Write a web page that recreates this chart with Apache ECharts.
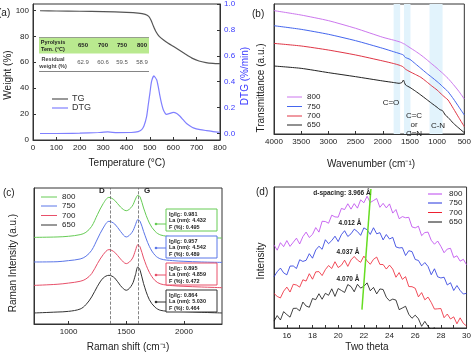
<!DOCTYPE html>
<html>
<head>
<meta charset="utf-8">
<title>TG / FTIR / Raman / XRD</title>
<style>
    * { margin: 0; padding: 0; }
    #main { width: 474px; height: 352px; background: #fff; }
</style>
</head>
<body>
<div id="main"></div>
<script src="https://cdn.jsdelivr.net/npm/echarts@6/dist/echarts.min.js"></script>
<script>
// ---------- (a) TG / DTG ----------
var tgTemp = [30, 100, 200, 300, 400, 450, 480, 495, 505, 515, 525, 540, 560, 580, 600, 620, 650, 680, 710, 740, 770, 800];
var tgWeight = [99.8, 99.6, 99.4, 99.1, 98.6, 98.0, 97.0, 95.5, 92.5, 88, 84, 80, 77, 74.5, 72.3, 70, 66.5, 63.2, 61, 59.8, 59.2, 58.9];
var dtgTemp = [30, 100, 200, 280, 320, 360, 420, 450, 465, 475, 486, 493, 500, 507, 517, 529, 536, 543, 550, 557, 565, 571, 585, 600, 615, 629, 643, 657, 672, 686, 715, 743, 770, 800];
var dtgRate = [0.0, 0.0, 0.003, 0.008, 0.012, 0.007, 0.008, 0.015, 0.03, 0.06, 0.13, 0.22, 0.31, 0.40, 0.445, 0.415, 0.36, 0.29, 0.23, 0.185, 0.158, 0.148, 0.155, 0.164, 0.155, 0.133, 0.105, 0.077, 0.058, 0.044, 0.03, 0.022, 0.015, 0.01];
var pyroTemps = ['650', '700', '750', '800'];
var residual = ['62.9', '60.6', '59.5', '58.9'];

// ---------- (b) FTIR ----------
var waveNum = [4000, 3500, 3000, 2500, 2000, 1800, 1700, 1650, 1620, 1600, 1580, 1500, 1400, 1300, 1200, 1100, 1000, 950, 900, 850, 800, 700, 600, 500];
var ir800 = [94.9, 91.5, 87.2, 81.3, 74.4, 72.2, 71, 70.2, 69.5, 69.2, 68.6, 66.4, 63.7, 60.8, 57.5, 54, 50.5, 48.6, 46.8, 44.8, 42.8, 38, 32.8, 26.9];
var ir750 = [83.3, 80.5, 76.7, 71.8, 65.9, 63.3, 62, 61.3, 60.8, 59.5, 58.8, 57.4, 54, 50.5, 47, 43.7, 40.3, 38.5, 36.5, 34.6, 32.6, 27, 20.8, 14.6];
var ir700 = [69.7, 67.7, 64.6, 60.8, 56.2, 54.2, 53, 52.2, 51.5, 50.5, 49.8, 47.9, 45.8, 43.6, 40.4, 37, 33.8, 31.8, 29.8, 28, 26.2, 19.5, 12.5, 5.6];
var ir650 = [52.3, 50.5, 47.2, 44.1, 40.8, 39.6, 39, 39.5, 41.5, 39.5, 37.7, 35.8, 33, 30, 26.8, 23.6, 20.5, 18.8, 17.9, 14.6, 12.8, 8.2, 4.5, 1];
var irBands = [[1800, 1680], [1610, 1490], [1140, 900]];

// ---------- (c) Raman ----------
var ramanShift = [700, 900, 1000, 1100, 1150, 1200, 1250, 1300, 1350, 1400, 1450, 1500, 1550, 1580, 1600, 1620, 1650, 1700, 1750, 1800, 1900, 2000, 2150, 2330];
var ra800 = [63.7, 64, 64.5, 65.7, 67.4, 71.8, 80.4, 88.5, 93.1, 90.9, 86, 83.3, 86.5, 91.9, 94.6, 93.4, 85.3, 74.3, 68.1, 65.4, 64.2, 63.7, 63.5, 63.2];
var ra750 = [45.6, 45.8, 46.6, 47.8, 49.8, 54.2, 62.5, 70.6, 75.5, 73.5, 68.1, 64, 67.4, 73, 76.7, 75.5, 68.1, 57.1, 50.5, 47.8, 46.6, 46.1, 45.6, 45.3];
var ra700 = [28.4, 29.2, 30.1, 31.4, 33.1, 37, 44.4, 51, 54.7, 52.7, 47.8, 44.4, 47.8, 54.2, 58.3, 56.6, 48.5, 38, 31.9, 29.4, 28.2, 27.7, 27.2, 26.7];
var ra650 = [8.1, 8.8, 9.3, 11, 14.2, 19.9, 27.7, 33.8, 35.8, 33.8, 28.2, 24.8, 28.9, 36.3, 41.9, 39.5, 29.7, 17.9, 12.3, 10, 9.3, 9.1, 8.6, 8.1];
var ramanRatio = ['0.981', '0.957', '0.895', '0.864'];
var ramanLa = ['4.432', '4.542', '4.859', '5.030'];
var ramanF = ['0.495', '0.489', '0.472', '0.464'];

// ---------- (d) XRD (sampled every 0.25 deg from 15) ----------
var xrd800 = [58.9, 55.2, 60.5, 57.7, 62, 57.9, 60.8, 63.7, 59.6, 64.8, 68, 64.2, 66.4, 71.2, 68, 75.7, 75.5, 74.3, 80, 78.8, 78.6, 84.8, 84, 88.1, 84.3, 88.2, 85, 90.9, 88.8, 93.4, 89, 90.4, 91.8, 85.6, 88.4, 85.2, 88, 81.5, 84, 77.5, 79, 78.2, 78.5, 71.7, 71, 72.2, 65.5, 67.7, 68, 62.2, 59.4, 61.7, 57.9, 53.4, 56, 56.5, 50, 51.2, 47.4, 48.7, 44.9];
var xrd750 = [36.3, 39.9, 42.5, 39.1, 37.7, 43.9, 44, 42.2, 48.4, 47.2, 48, 52.7, 49.5, 55.3, 58, 55.8, 62.6, 59.8, 62, 65.1, 61.3, 66.2, 69, 64.9, 66.8, 70.1, 68.4, 65.7, 71, 69.7, 66.4, 71.1, 66.8, 67.6, 62.5, 66.3, 63.1, 64.3, 57.5, 56.8, 57, 51.4, 54.8, 54.2, 48.6, 47.9, 44.1, 46.4, 43.6, 37.8, 42, 36.3, 35.5, 36, 30.5, 32.1, 26.6, 30.1, 26.6, 24.1, 24.6];
var xrd700 = [24.5, 22.4, 21.3, 26.1, 29, 25.5, 31, 30.5, 29, 34.2, 33.3, 38.5, 34.6, 39.8, 40, 37.2, 41.4, 44.3, 42.2, 47, 42.9, 44.5, 48.1, 43.7, 48.3, 50.7, 48.2, 46.6, 51, 47.6, 45.2, 48.7, 50.3, 45.1, 45, 41.8, 44.6, 41.8, 36, 39.3, 34.5, 36.4, 29.4, 29.3, 28.2, 22.1, 25.1, 20, 21.9, 18.1, 13.4, 13.6, 13.8, 7.3, 9.9, 6.4, 7.9, 3, 7.2, 3.3, 1.4];
var xrd650 = [4.9, 8.8, 5.7, 11.6, 9.5, 7.7, 13.9, 14, 12.2, 18.4, 15.6, 14.7, 20.9, 20.1, 24.3, 20.4, 24.6, 23.2, 27.8, 22.4, 28, 26.6, 25.2, 30.8, 29.4, 25.7, 31, 28.3, 29.6, 32, 26.4, 28.8, 24.2, 27.7, 27.3, 21.8, 19.3, 20.5, 19.8, 13, 14.2, 15.4, 9.7, 6.9, 9.1, 6.6, 1.2, 4.7, 1.2, -1.3, 0.2, -5.3];
var dLine = [[21.85, 13], [22.55, 98.6]];
var dSpacing = ['d-spacing: 3.966 Å', '4.012 Å', '4.037 Å', '4.070 Å'];

var temps = ['800', '750', '700', '650'];
var colB = ['#cc77ee', '#4466ee', '#e03545', '#222222'];
var colC = ['#66cc55', '#5b76e8', '#e8506a', '#333333'];
var colD = ['#bb44ee', '#2233dd', '#ee2030', '#111111'];

var FONT = 'Liberation Sans, Arial, sans-serif';

function pairs(xs, ys) {
    var out = [];
    for (var i = 0; i < ys.length; i++) out.push([xs[i], ys[i]]);
    return out;
}
var thetaX = [];
for (var i = 0; i < 61; i++) thetaX.push(15 + i * 0.25);

function txt(x, y, s, o) {
    o = o || {};
    return {
        type: 'text', x: x, y: y, rotation: o.rot || 0, z: 50,
        style: {
            text: s, fill: o.color || '#222', align: o.align || 'left', verticalAlign: 'middle',
            font: (o.weight || 'normal') + ' ' + (o.size || 9) + 'px ' + FONT, rich: o.rich
        }
    };
}
function seg(x1, y1, x2, y2, c, w) {
    return { type: 'line', z: 50, shape: { x1: x1, y1: y1, x2: x2, y2: y2 }, style: { stroke: c, lineWidth: w || 1 } };
}

var graphic = [];
// panel letters + axis titles
graphic.push(txt(-2, 13, '(a)', { size: 10 }));
graphic.push(txt(252, 14, '(b)', { size: 10 }));
graphic.push(txt(3, 193, '(c)', { size: 10 }));
graphic.push(txt(256, 192, '(d)', { size: 10 }));
graphic.push(txt(8, 75, 'Weight (%)', { rot: Math.PI / 2, align: 'center', size: 10 }));
graphic.push(txt(245, 76, 'DTG (%/min)', { rot: Math.PI / 2, align: 'center', size: 10, color: '#3a3aff' }));
graphic.push(txt(127, 163, 'Temperature (°C)', { align: 'center', size: 10 }));
graphic.push(txt(261, 88, 'Transmittance (a.u.)', { rot: Math.PI / 2, align: 'center', size: 10 }));
graphic.push(txt(371, 164, 'Wavenumber (cm⁻¹)', { align: 'center', size: 10 }));
graphic.push(txt(13, 263, 'Raman Intensity (a.u.)', { rot: Math.PI / 2, align: 'center', size: 10 }));
graphic.push(txt(128, 347, 'Raman shift (cm⁻¹)', { align: 'center', size: 10 }));
graphic.push(txt(261, 261, 'Intensity', { rot: Math.PI / 2, align: 'center', size: 10 }));
graphic.push(txt(367, 347, 'Two theta', { align: 'center', size: 10 }));

// (a) table
graphic.push({ type: 'rect', z: 40, shape: { x: 39, y: 37.5, width: 110, height: 16 }, style: { fill: '#b9e98f' } });
graphic.push(seg(39, 37.5, 149, 37.5, '#666', 0.6));
graphic.push(seg(39, 71.5, 149, 71.5, '#666', 0.8));
graphic.push(txt(53, 42, 'Pyrolysis', { size: 5.5, weight: 'bold', align: 'center' }));
graphic.push(txt(53, 49, 'Tem. (°C)', { size: 5.5, weight: 'bold', align: 'center' }));
graphic.push(txt(53, 59, 'Residual', { size: 5.5, weight: 'bold', align: 'center', color: '#444' }));
graphic.push(txt(53, 66, 'weight (%)', { size: 5.5, weight: 'bold', align: 'center', color: '#444' }));
var colX = [83, 103, 122, 142];
pyroTemps.forEach(function (t, k) {
    graphic.push(txt(colX[k], 45.5, t, { size: 6, weight: 'bold', align: 'center' }));
    graphic.push(txt(colX[k], 62.5, residual[k], { size: 6, align: 'center', color: '#555' }));
});
// (a) legend
graphic.push(seg(52, 99, 68, 99, '#555', 1.2));
graphic.push(txt(72, 99, 'TG', { size: 9, color: '#333' }));
graphic.push(seg(52, 108, 68, 108, '#8080ff', 1.2));
graphic.push(txt(72, 108, 'DTG', { size: 9, color: '#333' }));

// (b) legend + band labels
var legB = [97, 106.5, 116, 125];
var legC = [197, 206, 215.5, 225];
var legD = [194, 203, 212.5, 222];
temps.forEach(function (t, k) {
    graphic.push(seg(287, legB[k], 302, legB[k], colB[k], 1));
    graphic.push(txt(307, legB[k], t, { size: 8 }));
    graphic.push(seg(41, legC[k], 57, legC[k], colC[k], 1));
    graphic.push(txt(62, legC[k], t, { size: 8 }));
    graphic.push(seg(428, legD[k], 442, legD[k], colD[k], 1));
    graphic.push(txt(449, legD[k], t, { size: 8 }));
});
graphic.push(txt(391, 103, 'C=O', { size: 8, align: 'center' }));
graphic.push(txt(414, 116, 'C=C', { size: 8, align: 'center' }));
graphic.push(txt(414, 125, 'or', { size: 8, align: 'center' }));
graphic.push(txt(414, 134, 'C=N', { size: 8, align: 'center' }));
graphic.push(txt(438, 126, 'C-N', { size: 8, align: 'center' }));

// (c) D/G labels + annotation boxes
graphic.push(txt(102, 191, 'D', { size: 8, weight: 'bold', align: 'center' }));
graphic.push(txt(147, 191, 'G', { size: 8, weight: 'bold', align: 'center' }));
var boxTop = [209, 236, 263, 290];
var arrowY = [224, 248, 275, 302];
var subRich = { s: { fontSize: 4.5, fontWeight: 'bold', fill: '#222', verticalAlign: 'bottom', padding: [3, 0, 0, 0] } };
ramanRatio.forEach(function (r, k) {
    graphic.push({ type: 'rect', z: 45, shape: { x: 166, y: boxTop[k], width: 51, height: 22 }, style: { fill: '#fff', stroke: colC[k], lineWidth: 1 } });
    graphic.push(txt(169, boxTop[k] + 5, 'I{s|D}/I{s|G}: ' + r, { size: 5.5, weight: 'bold', rich: subRich }));
    graphic.push(txt(169, boxTop[k] + 11.5, 'La (nm): ' + ramanLa[k], { size: 5.5, weight: 'bold' }));
    graphic.push(txt(169, boxTop[k] + 18, 'F (%): ' + ramanF[k], { size: 5.5, weight: 'bold' }));
    graphic.push(seg(156, arrowY[k], 166, arrowY[k], colC[k], 1));
    graphic.push({ type: 'circle', z: 50, shape: { cx: 156, cy: arrowY[k], r: 1.3 }, style: { fill: colC[k] } });
});

// (d) d-spacing labels
graphic.push(txt(342, 193, dSpacing[0], { size: 6.5, weight: 'bold', align: 'center' }));
graphic.push(txt(350, 223, dSpacing[1], { size: 6.5, weight: 'bold', align: 'center' }));
graphic.push(txt(348, 252, dSpacing[2], { size: 6.5, weight: 'bold', align: 'center' }));
graphic.push(txt(348, 279, dSpacing[3], { size: 6.5, weight: 'bold', align: 'center' }));

var myChart = echarts.init(document.getElementById('main'), null, { renderer: 'canvas' });

var plain = function (v) { return String(v); };

function xAx(gi, o) {
    var a = {
        gridIndex: gi, type: 'value', splitLine: { show: false },
        axisLine: { show: true, onZero: false, lineStyle: { color: '#333' } },
        axisTick: { show: true, inside: true, length: 3, lineStyle: { color: '#333' } },
        axisLabel: { fontSize: 8, color: '#222', margin: 4, fontFamily: FONT, formatter: plain }
    };
    return echarts.util.merge(a, o, true);
}
function yAx(gi, o) {
    var a = xAx(gi, {});
    return echarts.util.merge(a, o, true);
}
var noLab = { axisLabel: { show: false }, axisTick: { show: false } };

var seriesLine = function (name, xi, yi, data, color, extra) {
    var s = {
        name: name, type: 'line', xAxisIndex: xi, yAxisIndex: yi, data: data,
        symbol: 'none', lineStyle: { color: color, width: 1 }, itemStyle: { color: color }, clip: true
    };
    return echarts.util.merge(s, extra || {}, true);
};

var irSeries = [ir800, ir750, ir700, ir650];
var raSeries = [ra800, ra750, ra700, ra650];
var xrdSeries = [xrd800, xrd750, xrd700, xrd650];

var series = [
    seriesLine('TG', 0, 0, pairs(tgTemp, tgWeight), '#555555', { smooth: 0.2, lineStyle: { width: 1.2 } }),
    seriesLine('DTG', 0, 1, pairs(dtgTemp, dtgRate), '#8080ff', { smooth: 0.2, lineStyle: { width: 1.2 } })
];
temps.forEach(function (t, k) {
    var s = seriesLine('IR ' + t, 1, 2, pairs(waveNum, irSeries[k]), colB[k], { smooth: 0.2 });
    if (k === 0) {
        s.markArea = {
            silent: true, itemStyle: { color: '#e2f3fc', opacity: 1 },
            data: irBands.map(function (b) { return [{ xAxis: b[0] }, { xAxis: b[1] }]; })
        };
    }
    series.push(s);
});
temps.forEach(function (t, k) {
    var s = seriesLine('Raman ' + t, 2, 3, pairs(ramanShift, raSeries[k]), colC[k], { smooth: 0.35 });
    if (k === 3) {
        s.markLine = {
            silent: true, symbol: 'none', label: { show: false },
            lineStyle: { color: '#666', type: 'dashed', width: 0.8 },
            data: [{ xAxis: 1360 }, { xAxis: 1600 }]
        };
    }
    series.push(s);
});
temps.forEach(function (t, k) {
    series.push(seriesLine('XRD ' + t, 3, 4, pairs(thetaX, xrdSeries[k]), colD[k], { lineStyle: { width: 0.8 } }));
});
series.push(seriesLine('d-shift', 3, 4, dLine, '#66dd22', { lineStyle: { width: 1.5 } }));

option = {
    animation: false,
    backgroundColor: '#fff',
    textStyle: { fontFamily: FONT },
    grid: [
        { left: 33, top: 4, width: 187, height: 136, show: true, borderColor: '#333', borderWidth: 1 },
        { left: 274, top: 4, width: 193, height: 130, show: true, borderColor: '#333', borderWidth: 1 },
        { left: 34, top: 188, width: 188, height: 136, show: true, borderColor: '#333', borderWidth: 1 },
        { left: 274, top: 187, width: 193, height: 141, show: true, borderColor: '#333', borderWidth: 1 }
    ],
    xAxis: [
        xAx(0, { min: 0, max: 800, interval: 100 }),
        xAx(1, { min: 500, max: 4000, interval: 500, inverse: true }),
        xAx(2, { min: 700, max: 2330, axisLabel: { customValues: [1000, 1500, 2000] }, axisTick: { customValues: [1000, 1500, 2000] } }),
        xAx(3, {
            min: 15, max: 30, interval: 1,
            axisLabel: { formatter: function (v) { return v % 2 === 0 ? String(v) : ''; } }
        })
    ],
    yAxis: [
        yAx(0, { min: 0, max: 105, interval: 20, axisLabel: { showMaxLabel: false } }),
        yAx(0, {
            position: 'right', min: -0.05, max: 1,
            axisLine: { lineStyle: { color: '#333' } },
            axisLabel: { color: '#3a3aff', customValues: [0, 0.2, 0.4, 0.6, 0.8, 1.0], formatter: function (v) { return v.toFixed(1); } },
            axisTick: { customValues: [0, 0.2, 0.4, 0.6, 0.8, 1.0] }
        }),
        yAx(1, echarts.util.merge({ min: 0, max: 100 }, noLab, true)),
        yAx(2, echarts.util.merge({ min: 0, max: 100 }, noLab, true)),
        yAx(3, echarts.util.merge({ min: 0, max: 100 }, noLab, true))
    ],
    graphic: graphic,
    series: series
};

myChart.setOption(option);
</script>
</body>
</html>
